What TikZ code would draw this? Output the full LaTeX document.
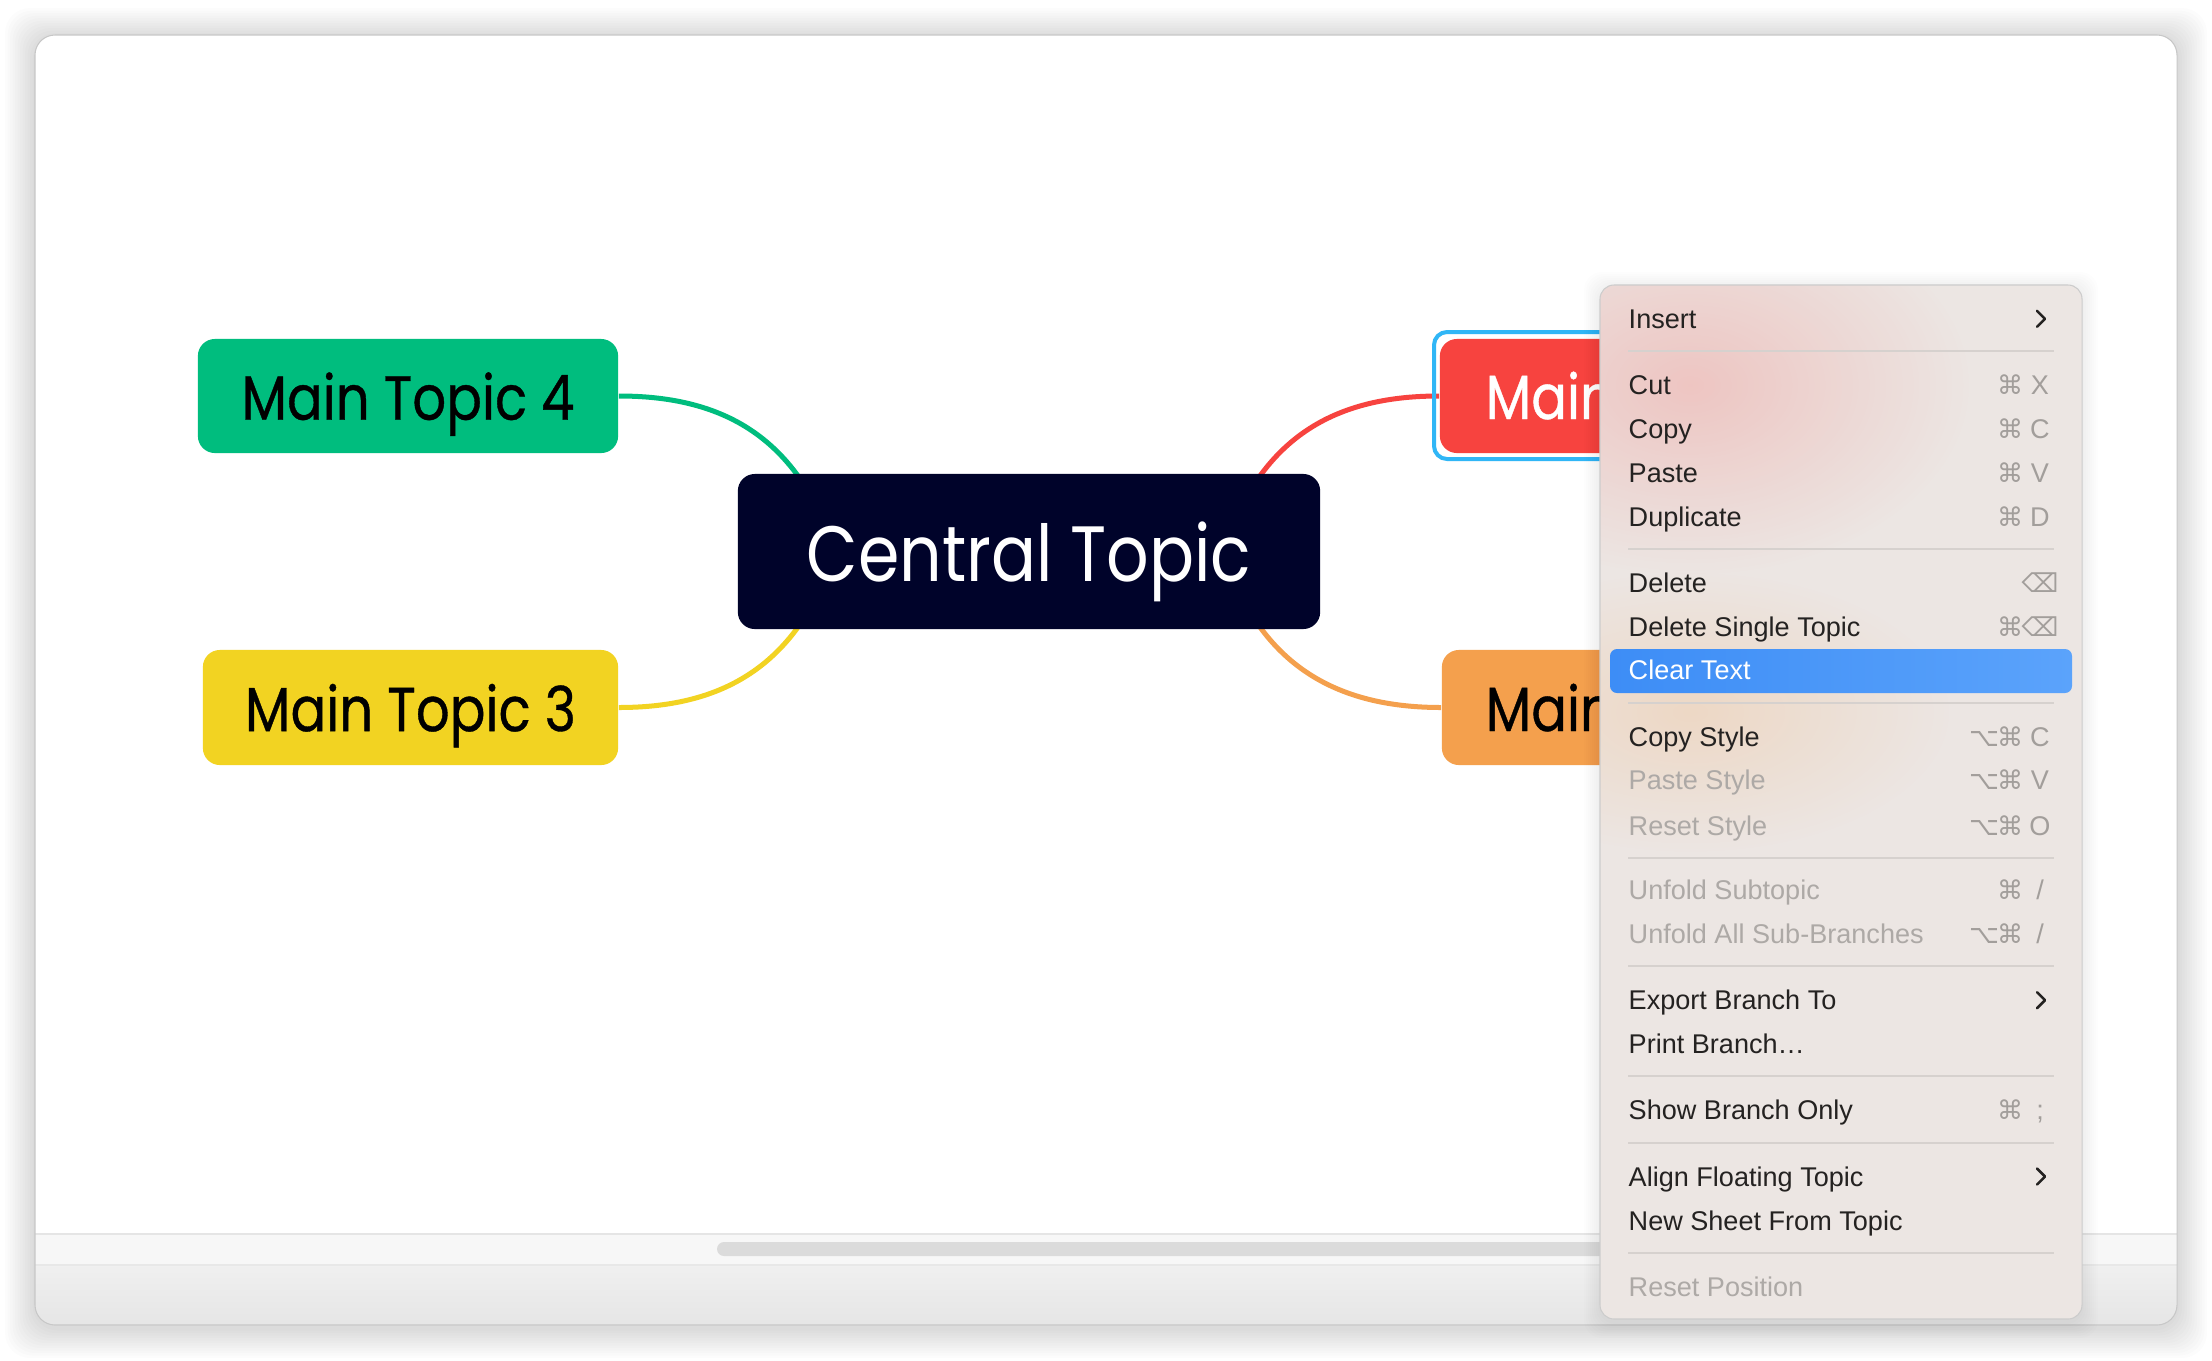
\documentclass[tikz,border=0pt]{standalone}
\usepackage{fontspec}
\setmainfont{Liberation Sans}
\newfontfamily\mapfont[FakeStretch=0.85,FakeBold=0.6]{Poppins}
\newfontfamily\centralfont[FakeStretch=0.85]{Poppins}
\newfontfamily\symfont{DejaVu Sans}
\usetikzlibrary{calc,fadings}
\tikzfading[name=softfade, inner color=transparent!0, outer color=transparent!100]
\definecolor{cgreen}{HTML}{00BD7E}
\definecolor{cyellow}{HTML}{F2D322}
\definecolor{cnavy}{HTML}{00032A}
\definecolor{cred}{HTML}{F7433F}
\definecolor{corange}{HTML}{F4A04D}
\definecolor{csel}{HTML}{30B6F6}
\definecolor{chlA}{HTML}{3D8DF6}
\definecolor{chlB}{HTML}{5BA3FB}
\definecolor{cmenu}{HTML}{ECE6E3}
\definecolor{ctext}{HTML}{242221}
\definecolor{cdis}{HTML}{ADA9A6}
\definecolor{cshort}{HTML}{A29E9B}
\definecolor{csep}{HTML}{D6D1CE}
\pgfdeclarelayer{back}\pgfdeclarelayer{lines}\pgfdeclarelayer{front}
\pgfsetlayers{back,lines,main,front}
\tikzset{
  topic/.style={rounded corners=0.17cm, inner sep=0pt, text depth=0pt, font=\mapfont\fontsize{17.7}{20}\selectfont},
  conn/.style={line width=0.05cm},
  mitem/.style={font=\fontsize{7.7}{9}\selectfont, inner sep=0pt, anchor=base west},
  mkey/.style={font=\fontsize{7.7}{9}\selectfont, inner sep=0pt, anchor=base, text=cshort},
  msym/.style={font=\symfont\fontsize{7.4}{9}\selectfont, inner sep=0pt, anchor=base, text=cshort},
  chev/.style={ctext, line width=0.025cm, line cap=round, line join=round}
}
\begin{document}
\begin{tikzpicture}[x=0.01cm,y=-0.01cm]
\useasboundingbox (0,0) rectangle (2212,1360);
\begin{pgfonlayer}{back}
\fill[white] (0,0) rectangle (2212,1360);
% window shadow
\foreach \i in {1,...,12}{
  \pgfmathsetmacro\dd{\i*2.5}
  \fill[black, opacity=0.010, rounded corners=0.25cm] (35-\dd,35-\dd+3) rectangle (2177+\dd,1325+\dd+3);
}
\fill[white, rounded corners=0.2cm] (35,35) rectangle (2177,1325);
\begin{scope}
  \clip[rounded corners=0.2cm] (35,35) rectangle (2177,1325);
  \fill[black!3] (35,1234) rectangle (2177,1265);
  \shade[top color=black!6, bottom color=black!10] (35,1265) rectangle (2177,1325);
  \draw[black!10, line width=0.02cm] (35,1234) -- (2177,1234);
  \draw[black!9, line width=0.02cm] (35,1265) -- (2177,1265);
  \fill[black!14, rounded corners=0.07cm] (717,1242) rectangle (1700,1256);
\end{scope}
\draw[black!22, line width=0.3pt, rounded corners=0.2cm] (35,35) rectangle (2177,1325);
\end{pgfonlayer}

% nodes
\node[topic, fill=cgreen, minimum width=4.2cm, minimum height=1.14cm] (t4) at (408,396) {Main Topic 4};
\node[topic, fill=cyellow, minimum width=4.15cm, minimum height=1.15cm] (t3) at (410.5,707.5) {Main Topic 3};
\node[topic, fill=cnavy, text=white, minimum width=5.82cm, minimum height=1.55cm, font=\centralfont\fontsize{22.3}{25}\selectfont] (ct) at (1029,551.5) {Central Topic};
\node[topic, fill=cred, minimum width=4.2cm, minimum height=1.14cm] (t1) at (1650,396) {};
\node[topic, fill=corange, minimum width=4.2cm, minimum height=1.15cm] (t2) at (1652,707.5) {};
\node[anchor=base west, inner sep=0pt, text=white, font=\mapfont\fontsize{17.7}{20}\selectfont] (t1l) at (1485,419) {Main};
\node[anchor=base west, inner sep=0pt, text=black, font=\mapfont\fontsize{17.7}{20}\selectfont] (t2l) at (1485,731) {Main};
\draw[csel, line width=0.04cm, rounded corners=0.13cm] (1434,332) rectangle (1720,459);

% connectors
\begin{pgfonlayer}{lines}
\draw[conn, cgreen] (t4.east) .. controls +(85,0) and +(-40,-60) .. ($(ct.north west)+(66,10)$);
\draw[conn, cyellow] (t3.east) .. controls +(85,0) and +(-40,60) .. ($(ct.south west)+(66,-10)$);
\draw[conn, cred] (t1.west) .. controls +(-85,0) and +(40,-60) .. ($(ct.north east)+(-66,10)$);
\draw[conn, corange] (t2.west) .. controls +(-85,0) and +(40,60) .. ($(ct.south east)+(-66,-10)$);
\end{pgfonlayer}

% context menu
\begin{pgfonlayer}{front}
\foreach \i in {1,...,8}{
  \pgfmathsetmacro\dd{\i*2}
  \fill[black, opacity=0.009, rounded corners=0.18cm] (1600-\dd,285-\dd+3) rectangle (2082+\dd,1319+\dd+3);
}
\fill[cmenu, rounded corners=0.14cm] (1600,285) rectangle (2082,1319);
\begin{scope}
  \clip[rounded corners=0.14cm] (1600,285) rectangle (2082,1319);
  \fill[cred, opacity=0.2, path fading=softfade] (1690,385) ellipse [x radius=2.8cm, y radius=1.9cm];
  \fill[corange, opacity=0.2, path fading=softfade] (1690,712) ellipse [x radius=2.6cm, y radius=1.4cm];
\end{scope}
\draw[black!20, line width=0.3pt, rounded corners=0.14cm] (1600,285) rectangle (2082,1319);
\shade[left color=chlA, right color=chlB, rounded corners=0.07cm] (1610,649) rectangle (2072,693);
\foreach \y in {351.3,548.8,702.5,857.7,966.3,1076.4,1142.7,1252.7}
  \draw[csep, line width=0.02cm] (1628,\y) -- (2054,\y);
\foreach \y/\t/\c [count=\n] in {318.8/Insert/ctext, 385.1/Cut/ctext, 428.9/Copy/ctext, 472.6/Paste/ctext, 516.3/Duplicate/ctext, 582.6/Delete/ctext, 626.4/Delete Single Topic/ctext, 670.1/Clear Text/white, 736.4/Copy Style/ctext, 780.1/Paste Style/cdis, 825.3/Reset Style/cdis, 890.2/Unfold Subtopic/cdis, 933.9/Unfold All Sub-Branches/cdis, 1000.2/Export Branch To/ctext, 1043.9/Print Branch…/ctext, 1110.2/Show Branch Only/ctext, 1176.5/Align Floating Topic/ctext, 1220.3/New Sheet From Topic/ctext, 1286.6/Reset Position/cdis}
  \node[mitem, text=\c] (m\n) at (1628,\y+9.7) {\t};
% command symbols
\foreach \y [count=\n] in {385.1,428.9,472.6,516.3,626.4,736.4,780.1,825.3,890.2,933.9,1110.2}
  \node[msym] (c\n) at (2010,\y+9.7) {⌘};
\foreach \y [count=\n] in {736.4,780.1,825.3,933.9}
  \node[msym] (o\n) at (1984,\y+9.7) {⌥};
\foreach \y/\k [count=\n] in {385.1/X,428.9/C,472.6/V,516.3/D,736.4/C,780.1/V,825.3/O}
  \node[mkey] (k\n) at (2040,\y+9.7) {\k};
\node[mkey] (k8) at (2040,899.9) {/};
\node[mkey] (k9) at (2040,943.6) {/};
\node[mkey] (k10) at (2040,1119.9) {;};
\node[msym] (d1) at (2040,592.3) {⌫};
\node[msym] (d2) at (2040,636.1) {⌫};
\foreach \y in {318.8,1000.2,1176.5}
  \draw[chev] (2037,\y-8) -- (2045,\y) -- (2037,\y+8);
\end{pgfonlayer}
\end{tikzpicture}
\end{document}
